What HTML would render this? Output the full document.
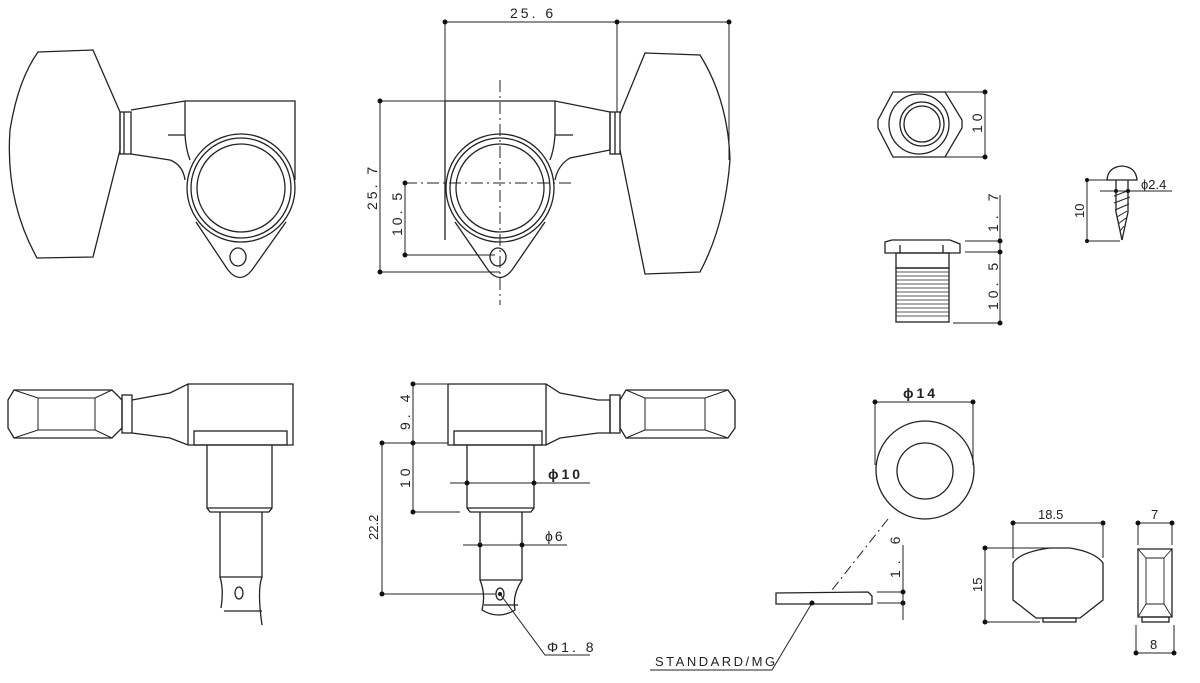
<!DOCTYPE html>
<html><head><meta charset="utf-8"><style>
html,body{margin:0;padding:0;background:#fff;}
svg{display:block;}
text{font-family:"Liberation Sans","DejaVu Sans",sans-serif;fill:#222;}
</style></head><body>
<svg width="1200" height="683" viewBox="0 0 1200 683" xmlns="http://www.w3.org/2000/svg">
<g fill="none" stroke="#222" stroke-width="1.3">
<path d="M38,52 L93,50 L120,112 L120,150 L93,257 L37,258 Q5,200 10,130 Q18,80 38,52 Z"/>
<rect x="120" y="112" width="11" height="42"/>
<line x1="124" y1="112" x2="124" y2="154"/>
<path d="M131,110 L185,101 L295,101 L295,180"/>
<path d="M131,154 L170,160 Q183,165 185,180"/>
<line x1="185" y1="101" x2="185" y2="135"/>
<path d="M168,135 L185,135 Q186,150 190,160"/>
<circle cx="241" cy="188" r="54"/>
<circle cx="241" cy="188" r="50"/>
<circle cx="241" cy="188" r="44"/>
<path d="M196,222 L228,270 Q240,285 252,270 L286,222"/>
<ellipse cx="238" cy="257" rx="8" ry="9"/>
<path d="M445,101 L555,101 L610,112 L610,150 L570,158 Q558,165 555,180"/>
<line x1="555" y1="101" x2="555" y2="135"/>
<path d="M573,135 L555,135 Q554,150 550,160"/>
<line x1="445" y1="101" x2="445" y2="240"/>
<rect x="610" y="112" width="10" height="42"/>
<line x1="615" y1="112" x2="615" y2="154"/>
<path d="M620,114 L645,53 L700,55 Q728,100 730,160 Q725,225 700,272 L645,274 L620,150"/>
<circle cx="500" cy="188" r="54"/>
<circle cx="500" cy="188" r="50"/>
<circle cx="500" cy="188" r="44"/>
<path d="M455,222 L488,270 Q500,285 512,270 L545,222"/>
<ellipse cx="498" cy="257" rx="8" ry="9"/>
<line x1="500" y1="80" x2="500" y2="305" stroke-dasharray="12,4,2,4" stroke-width="1"/>
<line x1="405" y1="183" x2="572" y2="183" stroke-dasharray="12,4,2,4" stroke-width="1"/>
<line x1="445" y1="22" x2="729" y2="22" stroke-width="1"/>
<line x1="617" y1="22" x2="617" y2="112" stroke-width="1"/>
<line x1="729" y1="22" x2="729" y2="160" stroke-width="1"/>
<line x1="445" y1="22" x2="445" y2="101" stroke-width="1"/>
<line x1="380" y1="101" x2="445" y2="101" stroke-width="1"/>
<line x1="380" y1="101" x2="380" y2="272" stroke-width="1"/>
<line x1="380" y1="272" x2="500" y2="272" stroke-width="1"/>
<line x1="405" y1="183" x2="405" y2="255" stroke-width="1"/>
<line x1="405" y1="255" x2="495" y2="255" stroke-width="1"/>
<polygon points="893,92 945,92 962,120 962,128 945,157 893,157 878,128 878,120"/>
<circle cx="919" cy="124" r="30"/>
<circle cx="922" cy="124" r="22"/>
<circle cx="922" cy="124" r="18"/>
<line x1="945" y1="92" x2="987" y2="92" stroke-width="1"/>
<line x1="945" y1="157" x2="987" y2="157" stroke-width="1"/>
<line x1="985" y1="92" x2="985" y2="157" stroke-width="1"/>
<path d="M885,242 L892,240 L950,240 L960,244 L960,253 L885,253 Z"/>
<line x1="900" y1="245" x2="900" y2="253"/><line x1="943" y1="245" x2="943" y2="253"/>
<rect x="896" y="253" width="53" height="15"/>
<rect x="896" y="268" width="53" height="54"/>
<path d="M896,272 H949 M896,276 H949 M896,280 H949 M896,284 H949 M896,288 H949 M896,292 H949 M896,296 H949 M896,300 H949 M896,304 H949 M896,308 H949 M896,312 H949 M896,316 H949" stroke-width="0.8"/>
<line x1="1000" y1="195" x2="1000" y2="324" stroke-width="1"/>
<line x1="965" y1="241" x2="1000" y2="241" stroke-width="1"/>
<line x1="965" y1="252" x2="1000" y2="252" stroke-width="1"/>
<line x1="953" y1="323" x2="1000" y2="323" stroke-width="1"/>
<path d="M1107,180 Q1108,167 1122,166 Q1136,167 1137,180 Z"/>
<path d="M1116,180 L1116,212 L1122,240 L1128,212 L1128,180"/>
<path d="M1114,196 L1130,190 M1114,203 L1130,197 M1115,210 L1129,204 M1117,217 L1127,211 M1118,224 L1126,218 M1120,231 L1124,226" stroke-width="1"/>
<line x1="1087" y1="180" x2="1113" y2="180" stroke-width="1"/>
<line x1="1087" y1="180" x2="1087" y2="241" stroke-width="1"/>
<line x1="1087" y1="241" x2="1120" y2="241" stroke-width="1"/>
<line x1="1100" y1="191" x2="1172" y2="191" stroke-width="1"/>
<path d="M14,390 L112,390 L122,400 L122,428 L112,438 L14,438 L8,428 L8,400 Z"/>
<path d="M38,398 L95,398 L95,430 L38,430 Z M14,390 L38,398 M14,438 L38,430 M112,390 L95,398 M112,438 L95,430" stroke-width="1"/>
<rect x="122" y="395" width="10" height="38"/>
<path d="M132,400 L170,393 L188,384 L293,384 L293,445 L188,445 L170,438 L132,433"/>
<line x1="188" y1="384" x2="188" y2="445"/>
<rect x="194" y="431" width="93" height="14"/>
<path d="M207,445 L207,508 L210,512 L269,512 L272,508 L272,445"/>
<line x1="207" y1="508" x2="272" y2="508"/>
<path d="M220,512 L220,577 Q224,590 221,608 M262,512 L262,577 Q257,590 262,625"/>
<line x1="220" y1="577" x2="262" y2="577"/>
<ellipse cx="239" cy="593" rx="4" ry="6"/>
<line x1="224" y1="611" x2="262" y2="611"/>
<path d="M448,384 L546,384 L560,393 L598,400 L610,400 L610,433 L598,433 L560,438 L546,445 L448,445 Z"/>
<line x1="546" y1="384" x2="546" y2="445"/>
<rect x="454" y="431" width="88" height="14"/>
<rect x="610" y="395" width="10" height="38"/>
<path d="M626,390 L728,390 L735,400 L735,428 L728,438 L626,438 L620,428 L620,400 Z"/>
<path d="M645,398 L705,398 L705,430 L645,430 Z M626,390 L645,398 M626,438 L645,430 M728,390 L705,398 M728,438 L705,430" stroke-width="1"/>
<path d="M467,445 L467,508 L470,512 L531,512 L534,508 L534,445"/>
<line x1="467" y1="508" x2="534" y2="508"/>
<path d="M480,512 L480,580 Q486,595 482,610 Q498,620 515,610 Q512,595 522,580 L522,512"/>
<line x1="480" y1="580" x2="522" y2="580"/>
<line x1="484" y1="605" x2="518" y2="605"/>
<ellipse cx="500" cy="594" rx="4" ry="6"/>
<circle cx="500" cy="594" r="1.5" fill="#222"/>
<line x1="413" y1="384" x2="448" y2="384" stroke-width="1"/>
<line x1="413" y1="384" x2="413" y2="512" stroke-width="1"/>
<line x1="382" y1="443" x2="448" y2="443" stroke-width="1"/>
<line x1="413" y1="512" x2="460" y2="512" stroke-width="1"/>
<line x1="382" y1="443" x2="382" y2="594" stroke-width="1"/>
<line x1="382" y1="594" x2="496" y2="594" stroke-width="1"/>
<line x1="450" y1="483" x2="590" y2="483" stroke-width="1"/>
<line x1="463" y1="545" x2="567" y2="545" stroke-width="1"/>
<path d="M500,594 L545,655 L590,655" stroke-width="1"/>
<circle cx="925" cy="470" r="49"/>
<circle cx="925" cy="471" r="28"/>
<line x1="875" y1="402" x2="973" y2="402" stroke-width="1"/>
<line x1="875" y1="402" x2="875" y2="465" stroke-width="1"/>
<line x1="973" y1="402" x2="973" y2="465" stroke-width="1"/>
<line x1="888" y1="519" x2="832" y2="590" stroke-width="1" stroke-dasharray="10,4,2,4"/>
<path d="M776,593 L868,592 L872,596 L872,604 L776,604 Z"/>
<line x1="903" y1="545" x2="903" y2="620" stroke-width="1"/>
<line x1="877" y1="592" x2="903" y2="592" stroke-width="1"/>
<line x1="877" y1="603" x2="903" y2="603" stroke-width="1"/>
<path d="M812,603 L772,670 L650,670" stroke-width="1"/>
<path d="M1013,563 Q1020,552 1050,548 L1070,548 Q1095,552 1103,563 L1103,600 L1080,618 L1036,618 L1013,600 Z"/>
<rect x="1043" y="618" width="33" height="4"/>
<line x1="1013" y1="523" x2="1103" y2="523" stroke-width="1"/>
<line x1="1013" y1="523" x2="1013" y2="558" stroke-width="1"/>
<line x1="1103" y1="523" x2="1103" y2="558" stroke-width="1"/>
<line x1="985" y1="548" x2="1050" y2="548" stroke-width="1"/>
<line x1="985" y1="548" x2="985" y2="622" stroke-width="1"/>
<line x1="985" y1="622" x2="1040" y2="622" stroke-width="1"/>
<path d="M1138,549 L1172,549 L1172,617 L1138,617 Z"/>
<path d="M1146,558 L1164,558 L1164,604 L1146,604 Z M1138,549 L1146,558 M1172,549 L1164,558 M1138,617 L1146,604 M1172,617 L1164,604" stroke-width="0.9"/>
<rect x="1142" y="617" width="27" height="5"/>
<line x1="1138" y1="523" x2="1172" y2="523" stroke-width="1"/>
<line x1="1138" y1="523" x2="1138" y2="545" stroke-width="1"/>
<line x1="1172" y1="523" x2="1172" y2="545" stroke-width="1"/>
<line x1="1136" y1="653" x2="1174" y2="653" stroke-width="1"/>
<line x1="1136" y1="625" x2="1136" y2="653" stroke-width="1"/>
<line x1="1174" y1="625" x2="1174" y2="653" stroke-width="1"/>
</g>
<g fill="#111">
<circle cx="445" cy="22" r="2.5"/><circle cx="617" cy="22" r="2.5"/><circle cx="729" cy="22" r="2.5"/>
<circle cx="380" cy="101" r="2.5"/><circle cx="380" cy="272" r="2.5"/>
<circle cx="405" cy="183" r="2.5"/><circle cx="405" cy="255" r="2.5"/>
<circle cx="985" cy="92" r="2.5"/><circle cx="985" cy="157" r="2.5"/>
<circle cx="1000" cy="241" r="2.5"/><circle cx="1000" cy="252" r="2.5"/><circle cx="1000" cy="323" r="2.5"/>
<circle cx="1087" cy="180" r="2"/><circle cx="1087" cy="241" r="2"/>
<circle cx="1116" cy="191" r="2"/><circle cx="1128" cy="191" r="2"/>
<circle cx="413" cy="384" r="2.5"/><circle cx="413" cy="443" r="2.5"/><circle cx="413" cy="512" r="2.5"/>
<circle cx="382" cy="443" r="2.5"/><circle cx="382" cy="594" r="2.5"/>
<circle cx="467" cy="483" r="2.5"/><circle cx="534" cy="483" r="2.5"/>
<circle cx="480" cy="545" r="2.5"/><circle cx="522" cy="545" r="2.5"/>
<circle cx="875" cy="402" r="2.5"/><circle cx="973" cy="402" r="2.5"/>
<circle cx="903" cy="592" r="2.5"/><circle cx="903" cy="603" r="2.5"/>
<circle cx="812" cy="603" r="2.5"/>
<circle cx="1013" cy="523" r="2.5"/><circle cx="1103" cy="523" r="2.5"/>
<circle cx="985" cy="548" r="2.5"/><circle cx="985" cy="622" r="2.5"/>
<circle cx="1138" cy="523" r="2.5"/><circle cx="1172" cy="523" r="2.5"/>
<circle cx="1136" cy="653" r="2.5"/><circle cx="1174" cy="653" r="2.5"/>
</g>
<g font-size="14">
<text x="510" y="18" letter-spacing="3">25. 6</text>
<text transform="translate(377,210) rotate(-90)" letter-spacing="3">25. 7</text>
<text transform="translate(402,236) rotate(-90)" letter-spacing="3">10. 5</text>
<text transform="translate(982,133) rotate(-90)" letter-spacing="4">10</text>
<text transform="translate(998,232) rotate(-90)" letter-spacing="5">1. 7</text>
<text transform="translate(998,310) rotate(-90)" letter-spacing="4">10. 5</text>
<text transform="translate(1084,218) rotate(-90)" font-size="13">10</text>
<text x="1141" y="189" font-size="13">ϕ2.4</text>
<text transform="translate(410,430) rotate(-90)" letter-spacing="4">9. 4</text>
<text transform="translate(410,488) rotate(-90)" letter-spacing="4">10</text>
<text transform="translate(378,540) rotate(-90)" font-size="13">22.2</text>
<text x="548" y="479" font-weight="bold" letter-spacing="3">ϕ10</text>
<text x="545" y="541" letter-spacing="2">ϕ6</text>
<text x="547" y="652" letter-spacing="3">Φ1. 8</text>
<text x="903" y="398" font-weight="bold" letter-spacing="3">ϕ14</text>
<text transform="translate(900,578) rotate(-90)" letter-spacing="6">1. 6</text>
<text x="655" y="666" letter-spacing="2.5" font-size="13">STANDARD/MG</text>
<text x="1038" y="519" font-size="13">18.5</text>
<text transform="translate(982,592) rotate(-90)" font-size="13">15</text>
<text x="1151" y="519" font-size="13">7</text>
<text x="1150" y="649" font-size="13">8</text>
</g>
</svg>
</body></html>
